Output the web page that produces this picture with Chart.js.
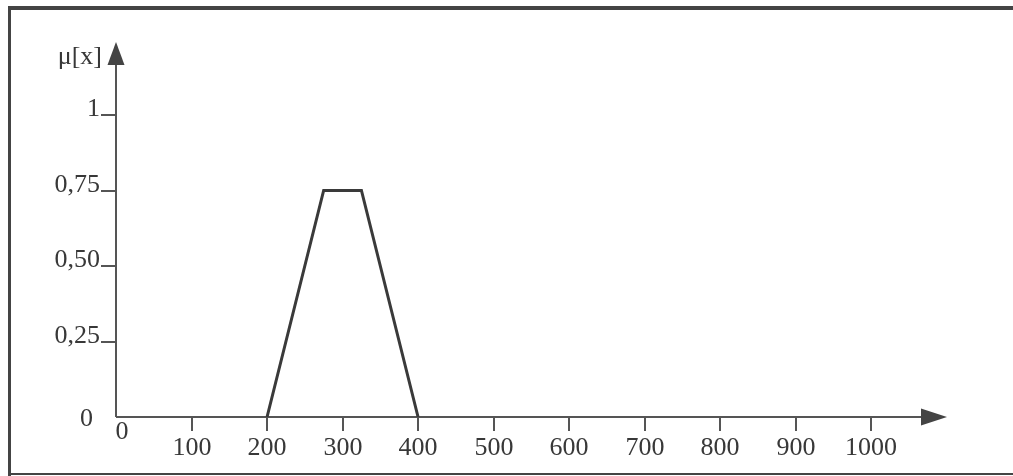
<!DOCTYPE html>
<html>
<head>
<meta charset="utf-8">
<script src="https://cdn.jsdelivr.net/npm/chart.js@4/dist/chart.umd.min.js"></script>
<style>
  html, body { margin: 0; padding: 0; background: #fff; }
  #wrap { width: 1013px; height: 476px; position: relative; }
</style>
</head>
<body>
<div id="wrap"><canvas id="myChart"></canvas></div>
<script>
// membership function points (x, mu)
var pointX = [200, 275, 325, 400];
var pointY = [0, 0.75, 0.75, 0];
// axis ticks
var xTicks = [0, 100, 200, 300, 400, 500, 600, 700, 800, 900, 1000];
var xLabels = ['0', '100', '200', '300', '400', '500', '600', '700', '800', '900', '1000'];
var yTicks = [0, 0.25, 0.5, 0.75, 1];
var yLabels = ['0', '0,25', '0,50', '0,75', '1'];
var yTitle = 'μ[x]';

var lineColor = '#454545';
var textColor = '#383838';
var font = '26px "Liberation Serif", "Times New Roman", serif';

var pts = [];
for (var i = 0; i < pointX.length; ++i) {
    pts.push({x: pointX[i], y: pointY[i]});
}

// draws the frame, arrows, ticks and labels
var axesPlugin = {
    id: 'axesPlugin',
    beforeDatasetsDraw: function(chart) {
        var ctx = chart.ctx;
        var xs = chart.scales.x;
        var ys = chart.scales.y;
        var area = chart.chartArea;
        var x0 = xs.getPixelForValue(0);
        var y0 = ys.getPixelForValue(0);
        ctx.save();

        // frame
        ctx.fillStyle = '#444';
        ctx.fillRect(8, 6, 1013 - 8, 4);
        ctx.fillRect(8, 6, 3, 470);
        ctx.fillRect(8, 473, 1013 - 8, 2);

        ctx.strokeStyle = '#555';
        ctx.fillStyle = '#444';
        ctx.lineWidth = 2;
        // y axis + arrow
        ctx.beginPath();
        ctx.moveTo(x0, y0);
        ctx.lineTo(x0, area.top);
        ctx.stroke();
        ctx.beginPath();
        ctx.moveTo(x0, area.top - 23);
        ctx.lineTo(x0 - 8.5, area.top);
        ctx.lineTo(x0 + 8.5, area.top);
        ctx.closePath();
        ctx.fill();
        // x axis + arrow
        ctx.beginPath();
        ctx.moveTo(x0, y0);
        ctx.lineTo(area.right, y0);
        ctx.stroke();
        ctx.beginPath();
        ctx.moveTo(area.right + 26, y0);
        ctx.lineTo(area.right, y0 - 8.5);
        ctx.lineTo(area.right, y0 + 8.5);
        ctx.closePath();
        ctx.fill();

        ctx.font = font;
        ctx.fillStyle = textColor;

        // x ticks
        for (var i = 0; i < xTicks.length; ++i) {
            var px = Math.round(xs.getPixelForValue(xTicks[i]));
            ctx.textAlign = 'center';
            ctx.textBaseline = 'alphabetic';
            if (xTicks[i] == 0) {
                ctx.fillText(xLabels[i], px + 6, y0 + 22);
                continue;
            }
            ctx.beginPath();
            ctx.moveTo(px, y0);
            ctx.lineTo(px, y0 + 14);
            ctx.stroke();
            ctx.fillText(xLabels[i], px, y0 + 38);
        }
        // y ticks
        for (var j = 0; j < yTicks.length; ++j) {
            var py = Math.round(ys.getPixelForValue(yTicks[j]));
            ctx.textAlign = 'right';
            ctx.textBaseline = 'alphabetic';
            if (yTicks[j] == 0) {
                ctx.fillText(yLabels[j], x0 - 23, py + 9);
                continue;
            }
            ctx.beginPath();
            ctx.moveTo(x0 - 15, py);
            ctx.lineTo(x0, py);
            ctx.stroke();
            ctx.fillText(yLabels[j], x0 - 16, py + 1);
        }
        // y title
        ctx.textAlign = 'right';
        ctx.fillText(yTitle, x0 - 14, area.top - 1);
        ctx.restore();
    }
};

var ctx = document.getElementById('myChart').getContext('2d');
var chart = new Chart(ctx, {
    type: 'line',
    data: {
        datasets: [{
            data: pts,
            borderColor: '#3a3a3a',
            borderWidth: 3,
            pointRadius: 0,
            fill: false,
            tension: 0,
            borderJoinStyle: 'miter'
        }]
    },
    options: {
        responsive: true,
        maintainAspectRatio: false,
        animation: false,
        layout: { padding: { left: 116, right: 92, top: 65, bottom: 59 } },
        plugins: { legend: { display: false }, tooltip: { enabled: false } },
        scales: {
            x: { type: 'linear', display: false, min: 0, max: 1066 },
            y: { type: 'linear', display: false, min: 0, max: 1.1656 }
        }
    },
    plugins: [axesPlugin]
});
</script>
</body>
</html>
